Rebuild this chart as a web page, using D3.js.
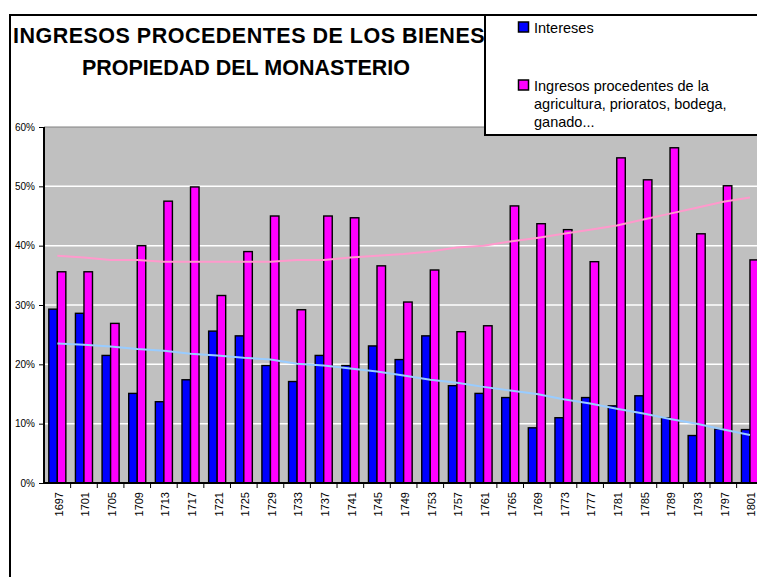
<!DOCTYPE html>
<html lang="es">
<head>
<meta charset="UTF-8">
<title>Ingresos procedentes de los bienes</title>
<style>
  body { margin: 0; background: #fff; }
  svg { display: block; font-family: "Liberation Sans", Arial, sans-serif; }
  .grid line { stroke: #fff; stroke-width: 1.5px; }
  .bar { stroke: #000; stroke-width: 1.4px; }
  .trend { fill: none; stroke-width: 2px; }
</style>
</head>
<body>
<svg width="757" height="577"></svg>
<script src="https://d3js.org/d3.v7.min.js"></script>
<script>
var years = ["1697","1701","1705","1709","1713","1717","1721","1725","1729","1733","1737","1741","1745","1749",
             "1753","1757","1761","1765","1769","1773","1777","1781","1785","1789","1793","1797","1801"];

var intereses = [29.3,28.6,21.5,15.1,13.7,17.4,25.6,24.8,19.8,17.1,21.5,19.8,23.1,20.8,
                 24.8,16.4,15.1,14.4,9.3,11.0,14.4,13.0,14.7,11.0,8.0,9.1,9.0];

var agricultura = [35.6,35.6,26.9,40.0,47.5,49.9,31.6,39.0,45.0,29.2,45.0,44.7,36.6,30.5,
                   35.9,25.5,26.5,46.7,43.7,42.7,37.3,54.8,51.1,56.5,42.0,50.1,37.6];

// trend lines
var trendIntereses = [23.5,23.3,23.0,22.6,22.3,21.8,21.5,21.1,20.8,20.1,19.8,19.3,18.8,18.1,
                      17.4,16.9,16.2,15.6,15.0,14.1,13.4,12.5,11.7,10.8,10.0,9.0,8.1];

var trendAgricultura = [38.3,38.0,37.6,37.6,37.3,37.3,37.3,37.3,37.3,37.6,37.6,38.0,38.3,38.6,
                        39.0,39.7,40.0,40.7,41.3,42.0,42.7,43.4,44.4,45.4,46.4,47.4,48.1];

var yTicks = [0, 10, 20, 30, 40, 50, 60];

var titleLines = ["INGRESOS PROCEDENTES DE LOS BIENES", "PROPIEDAD DEL MONASTERIO"];
var legendNames = [["Intereses"], ["Ingresos procedentes de la", "agricultura, prioratos, bodega,", "ganado..."]];
var colors = ["#0000ff", "#ff00ff"];

var svg = d3.select("svg");

var plot = {left: 44, top: 127, bottom: 483, step: 26.64};
var plotRight = plot.left + plot.step * years.length;

var x = d3.scaleBand().domain(years).range([plot.left, plotRight]).paddingInner(0).paddingOuter(0);
var y = d3.scaleLinear().domain([0, 60]).range([plot.bottom, plot.top]);
var barW = x.bandwidth() * 0.32;

// outer frame
svg.append("rect")
    .attr("x", 10).attr("y", 15)
    .attr("width", 800).attr("height", 700)
    .attr("fill", "#fff").attr("stroke", "#000").attr("stroke-width", 2);

// title
svg.append("g").selectAll("text")
    .data(titleLines)
  .enter().append("text")
    .attr("x", function (d, i) { return i === 0 ? 249 : 246; })
    .attr("y", function (d, i) { return 43 + i * 32; })
    .attr("text-anchor", "middle")
    .attr("font-size", "21.5px")
    .attr("font-weight", "bold")
    .attr("letter-spacing", function (d, i) { return i === 0 ? "0.5px" : "0px"; })
    .text(function (d) { return d; });

// plot background
svg.append("rect")
    .attr("x", plot.left).attr("y", plot.top)
    .attr("width", plotRight - plot.left).attr("height", plot.bottom - plot.top)
    .attr("fill", "#c0c0c0");

svg.append("line")
    .attr("x1", plot.left).attr("x2", plotRight)
    .attr("y1", plot.top).attr("y2", plot.top)
    .attr("stroke", "#808080").attr("stroke-width", 1);

// gridlines
svg.append("g")
    .attr("class", "grid")
    .selectAll("line")
    .data(yTicks.filter(function (d) { return d > 0 && d < 60; }))
  .enter().append("line")
    .attr("x1", plot.left).attr("x2", plotRight)
    .attr("y1", function (d) { return y(d); })
    .attr("y2", function (d) { return y(d); });

// bars
var groups = svg.append("g").selectAll("g")
    .data(years)
  .enter().append("g")
    .attr("transform", function (d) { return "translate(" + (x(d) + x.bandwidth() / 2) + ",0)"; });

groups.append("rect")
    .attr("class", "bar")
    .attr("x", -barW)
    .attr("y", function (d, i) { return y(intereses[i]); })
    .attr("width", barW)
    .attr("height", function (d, i) { return y(0) - y(intereses[i]); })
    .attr("fill", colors[0]);

groups.append("rect")
    .attr("class", "bar")
    .attr("x", 0)
    .attr("y", function (d, i) { return y(agricultura[i]); })
    .attr("width", barW)
    .attr("height", function (d, i) { return y(0) - y(agricultura[i]); })
    .attr("fill", colors[1]);

// trend lines
var line = d3.line()
    .x(function (d, i) { return x(years[i]) + x.bandwidth() / 2; })
    .y(function (d) { return y(d); });

svg.append("path")
    .datum(trendAgricultura)
    .attr("class", "trend")
    .attr("stroke", "#ff99cc")
    .attr("d", line);

svg.append("path")
    .datum(trendIntereses)
    .attr("class", "trend")
    .attr("stroke", "#99ccff")
    .attr("d", line);

// axes
var yAxis = d3.axisLeft(y)
    .tickValues(yTicks)
    .tickSize(5)
    .tickPadding(4)
    .tickFormat(function (d) { return d + "%"; });

var gy = svg.append("g")
    .attr("transform", "translate(" + plot.left + ",0)")
    .call(yAxis);
gy.select(".domain").attr("stroke-width", 2).attr("d", "M0," + plot.top + "V" + plot.bottom);
gy.selectAll("text").attr("font-size", "10px").attr("font-family", "Liberation Sans, Arial, sans-serif");

var xAxis = d3.axisBottom(x).tickSize(0).tickPadding(0);
var gx = svg.append("g")
    .attr("transform", "translate(0," + plot.bottom + ")")
    .call(xAxis);
gx.select(".domain").attr("stroke-width", 2).attr("d", "M" + (plot.left - 1) + ",0H" + plotRight);
gx.selectAll(".tick text")
    .attr("font-size", "11px")
    .attr("font-family", "Liberation Sans, Arial, sans-serif")
    .attr("text-anchor", "end")
    .attr("transform", "rotate(-90)")
    .attr("x", -9)
    .attr("y", 0)
    .attr("dy", "0.35em")
    .attr("dx", 0);
gx.selectAll(".tick").each(function () {
    d3.select(this).attr("transform", d3.select(this).attr("transform").replace(/translate\(([\d.]+)/, function (m, v) {
        return "translate(" + (+v + 1.5);
    }));
});

// category separator ticks
svg.append("g").selectAll("line")
    .data(years.slice(1))
  .enter().append("line")
    .attr("x1", function (d) { return x(d); })
    .attr("x2", function (d) { return x(d); })
    .attr("y1", plot.bottom)
    .attr("y2", plot.bottom + 5)
    .attr("stroke", "#000");

// legend
var legend = svg.append("g");
legend.append("rect")
    .attr("x", 485).attr("y", 15)
    .attr("width", 400).attr("height", 120)
    .attr("fill", "#fff").attr("stroke", "#000").attr("stroke-width", 2);

var legendTop = [22, 80];
legendNames.forEach(function (lines, k) {
    legend.append("rect")
        .attr("x", 518.5).attr("y", legendTop[k])
        .attr("width", 10).attr("height", 10)
        .attr("fill", colors[k]).attr("stroke", "#000").attr("stroke-width", 1.5);
    legend.append("text")
        .attr("x", 534)
        .attr("y", legendTop[k] + 11)
        .attr("font-size", "14.5px")
        .selectAll("tspan")
        .data(lines)
      .enter().append("tspan")
        .attr("x", 534)
        .attr("dy", function (d, i) { return i === 0 ? 0 : 18; })
        .text(function (d) { return d; });
});
</script>
</body>
</html>
